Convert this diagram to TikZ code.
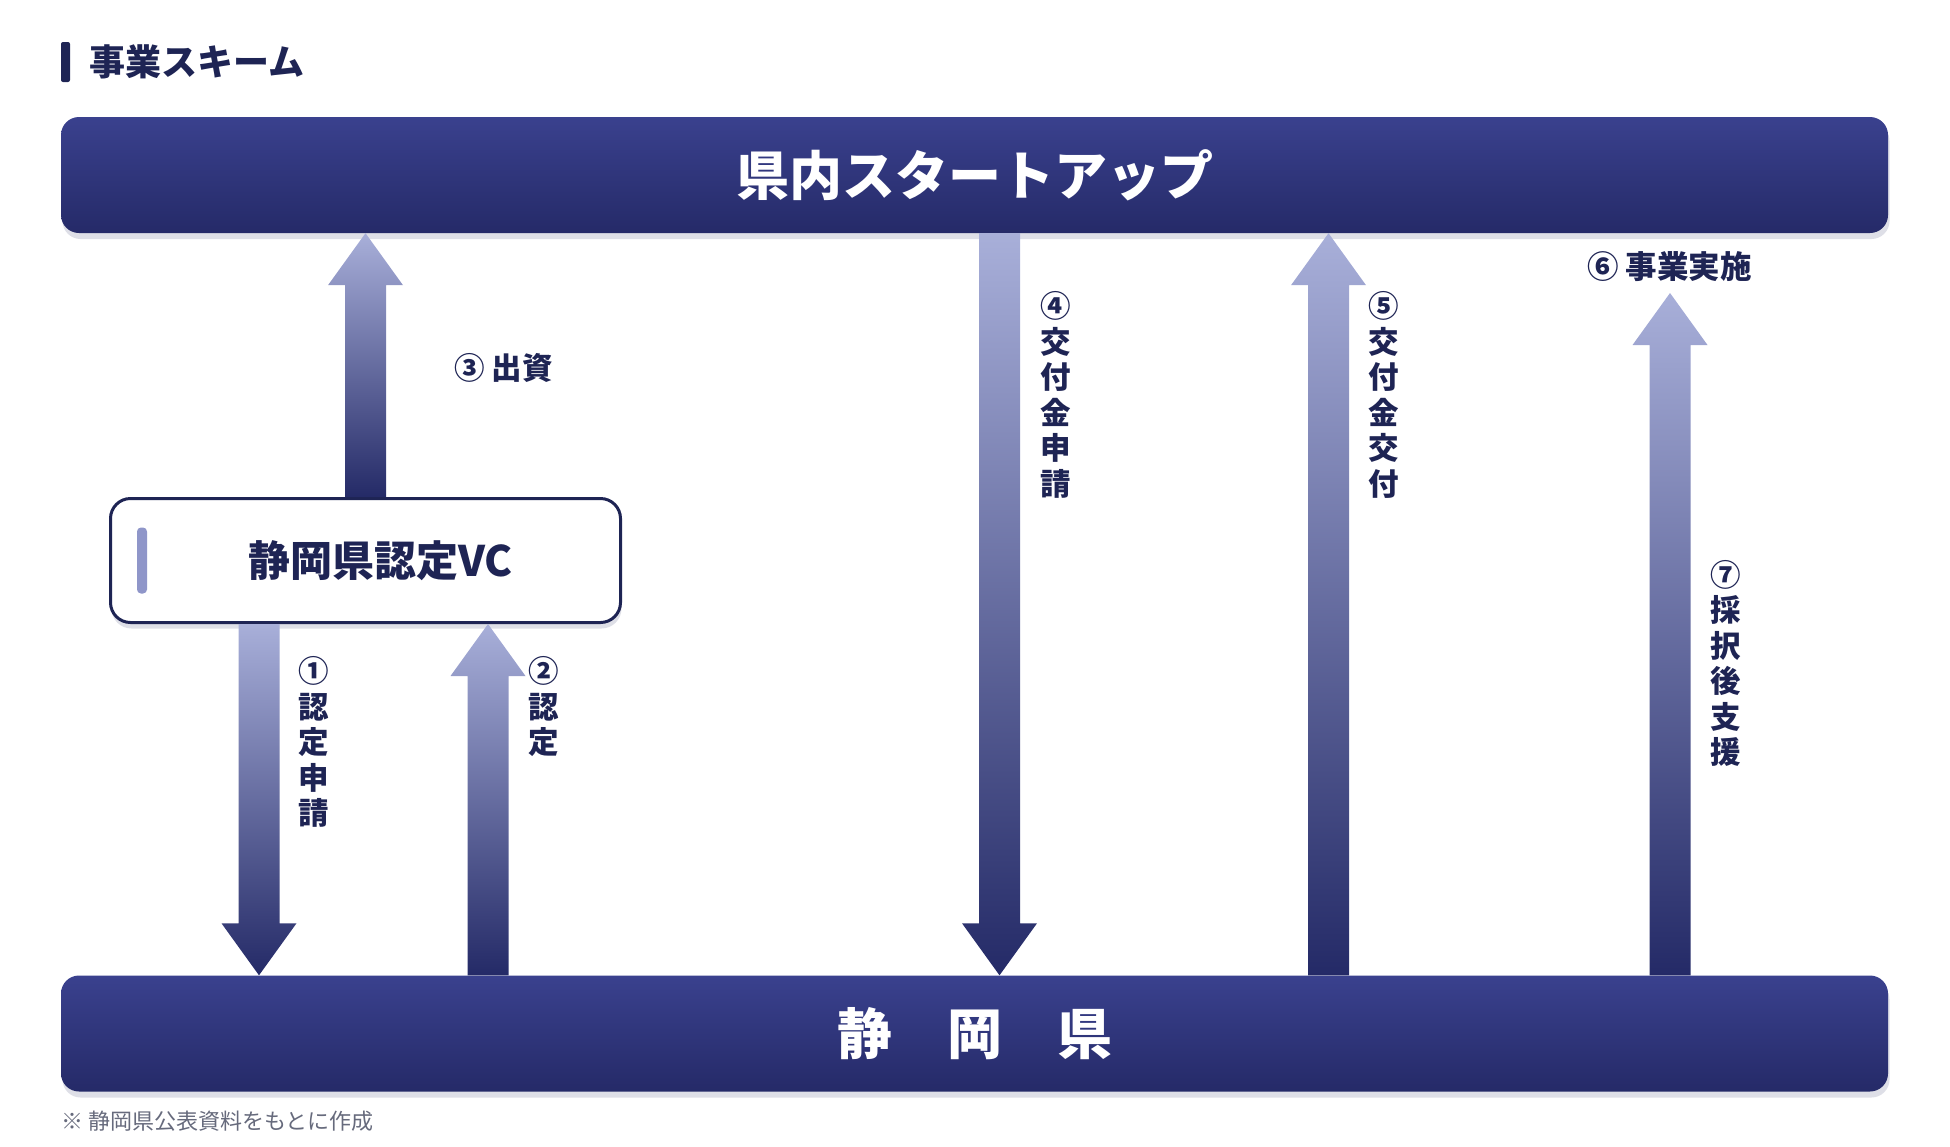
\documentclass[tikz,border=0pt]{standalone}
\usepackage{fontspec}
\setmainfont{Noto Sans CJK JP}
\usetikzlibrary{calc,shadows}

\definecolor{navytop}{RGB}{58,65,142}
\definecolor{navybot}{RGB}{37,42,104}
\definecolor{arrowlight}{RGB}{168,175,217}
\definecolor{arrowdark}{RGB}{36,42,103}
\definecolor{ink}{RGB}{30,36,84}
\definecolor{shadowgray}{RGB}{222,223,231}
\definecolor{accent}{RGB}{143,150,201}
\definecolor{notegray}{RGB}{102,106,124}

\tikzset{
  bandbox/.style={top color=navytop, bottom color=navybot, rounded corners=18pt,
    minimum width=1827pt, minimum height=116pt, text=white,
    font=\bfseries\fontsize{53}{60}\selectfont,
    general shadow={fill=shadowgray, shadow xshift=1.5pt, shadow yshift=-6pt}},
  vcbox/.style={draw=ink, line width=3pt, fill=white, rounded corners=20pt,
    minimum width=510pt, minimum height=124pt, text=ink,
    font=\bfseries\fontsize{42}{50}\selectfont,
    general shadow={fill=shadowgray, shadow xshift=1pt, shadow yshift=-6pt}},
  fatarrow/.style={top color=arrowlight, bottom color=arrowdark,
    to path={let \p1=(\tikztostart), \p2=(\tikztotarget),
      \n1={(\y2-\y1)/abs(\y2-\y1)} in
      ({\x1-20.5pt},\y1) -- ({\x1-20.5pt},{\y2-(\n1)*52pt})
      -- ({\x1-37.5pt},{\y2-(\n1)*52pt}) -- (\x2,\y2)
      -- ({\x1+37.5pt},{\y2-(\n1)*52pt}) -- ({\x1+20.5pt},{\y2-(\n1)*52pt})
      -- ({\x1+20.5pt},\y1) -- cycle}},
  steplabel/.style={text=ink, font=\bfseries\fontsize{30.5}{35.5}\selectfont, align=center, inner sep=0pt}
}

\begin{document}
\begin{tikzpicture}[x=1pt, y=-1pt]
  \useasboundingbox (0,0) rectangle (1950,1146);

  % heading
  \fill[ink, rounded corners=2pt] (61,42) rectangle (70,82);
  \node[anchor=west, text=ink, font=\bfseries\fontsize{36}{42}\selectfont, inner sep=0pt] (title) at (89,62) {事業スキーム};

  % the two bands and the VC box
  \node[bandbox] (startup) at (974.5,175) {県内スタートアップ};
  \node[bandbox, font=\bfseries\fontsize{55}{60}\selectfont] (pref) at (974.5,1033.5) {静　岡　県};
  \node[vcbox] (vc) at (365.5,560.5) {\hspace*{30pt}静岡県認定VC};
  \fill[accent, rounded corners=4pt] ([xshift=28pt,yshift=-33pt]vc.west) rectangle ([xshift=38pt,yshift=33pt]vc.west);

  % arrow columns
  \coordinate (c1) at (259,0);
  \coordinate (c2) at (488,0);
  \coordinate (c4) at (999.5,0);
  \coordinate (c5) at (1328.5,0);
  \coordinate (c7) at (1670,0);
  \coordinate (c7top) at (1670,293);

  \path[fatarrow] (vc.south -| c1) to (pref.north -| c1);
  \path[fatarrow] (pref.north -| c2) to (vc.south -| c2);
  \path[fatarrow] (vc.north) to (startup.south -| vc.north);
  \path[fatarrow] (startup.south -| c4) to (pref.north -| c4);
  \path[fatarrow] (pref.north -| c5) to (startup.south -| c5);
  \path[fatarrow] (pref.north -| c7) to (c7top);

  % step labels
  \node[steplabel] (l1) at (314,742) {①\\認\\定\\申\\請};
  \node[steplabel] (l2) at (544,707) {②\\認\\定};
  \node[steplabel, anchor=west] (l3) at (454,368) {③ 出資};
  \node[steplabel] (l4) at (1056,395) {④\\交\\付\\金\\申\\請};
  \node[steplabel] (l5) at (1384,395) {⑤\\交\\付\\金\\交\\付};
  \node[steplabel, anchor=west, font=\bfseries\fontsize{31.5}{36}\selectfont] (l6) at (1587,267) {⑥ 事業実施};
  \node[steplabel] (l7) at (1726,663.5) {⑦\\採\\択\\後\\支\\援};

  \node[anchor=west, text=notegray, font=\fontsize{22}{26}\selectfont, inner sep=0pt] (note) at (61,1121) {※ 静岡県公表資料をもとに作成};
\end{tikzpicture}
\end{document}
